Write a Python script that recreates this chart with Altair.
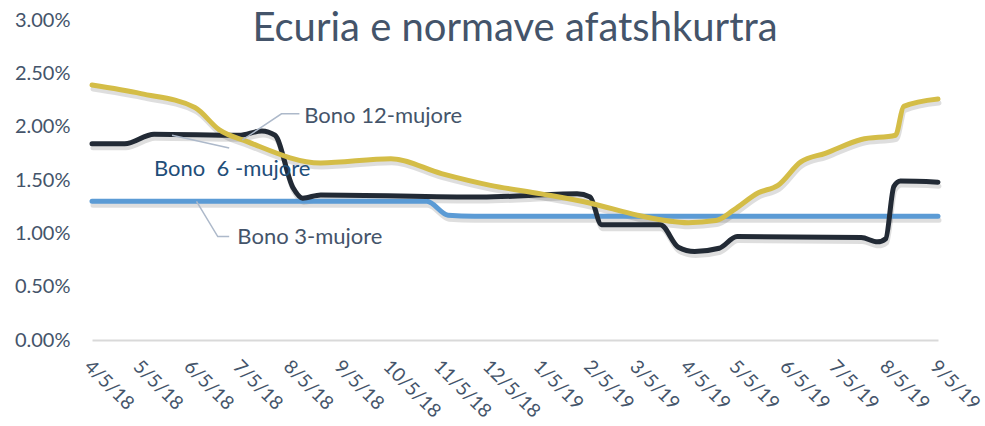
import altair as alt
import pandas as pd

# --- data ---
b3_dates = ["2018-04-05", "2018-07-01", "2018-10-01", "2018-10-27", "2018-11-09", "2018-11-25",
            "2019-02-05", "2019-05-05", "2019-09-05"]
b3_vals = [1.30, 1.30, 1.30, 1.30, 1.17, 1.16, 1.16, 1.16, 1.16]

b6_dates = ["2018-04-05", "2018-04-25", "2018-05-13", "2018-07-04", "2018-07-18", "2018-07-26",
            "2018-08-06", "2018-08-12", "2018-08-23", "2018-11-29", "2019-01-27", "2019-02-04",
            "2019-02-11", "2019-02-18", "2019-03-09", "2019-03-19", "2019-03-30", "2019-04-09",
            "2019-04-24", "2019-05-05", "2019-07-20", "2019-07-30", "2019-08-04", "2019-08-09",
            "2019-08-13", "2019-09-05"]
b6_vals = [1.84, 1.84, 1.93, 1.92, 1.96, 1.92,
           1.43, 1.33, 1.36, 1.34, 1.37, 1.34,
           1.08, 1.08, 1.08, 1.08, 0.87, 0.83,
           0.86, 0.97, 0.96, 0.92, 0.95, 1.44,
           1.49, 1.48]

b12_dates = ["2018-04-05", "2018-05-05", "2018-06-07", "2018-06-22", "2018-07-09", "2018-08-23",
             "2018-10-05", "2018-11-05", "2018-12-05", "2019-01-05", "2019-02-05", "2019-03-05",
             "2019-04-05", "2019-04-22", "2019-05-03", "2019-05-18", "2019-05-30", "2019-06-13",
             "2019-06-28", "2019-07-20", "2019-08-10", "2019-08-15", "2019-09-05"]
b12_vals = [2.39, 2.31, 2.18, 1.97, 1.86, 1.66,
            1.70, 1.56, 1.45, 1.37, 1.28, 1.17,
            1.10, 1.12, 1.22, 1.38, 1.45, 1.67,
            1.75, 1.88, 1.92, 2.19, 2.26]

tick_dates = ["2018-04-05", "2018-05-05", "2018-06-05", "2018-07-05", "2018-08-05", "2018-09-05",
              "2018-10-05", "2018-11-05", "2018-12-05", "2019-01-05", "2019-02-05", "2019-03-05",
              "2019-04-05", "2019-05-05", "2019-06-05", "2019-07-05", "2019-08-05", "2019-09-05"]
y_ticks = [0.0, 0.005, 0.01, 0.015, 0.02, 0.025, 0.03]

series_names = ["Bono 3-mujore", "Bono 6-mujore", "Bono 12-mujore"]
series_colors = ["#5B9BD5", "#222A35", "#D4BD47"]

# annotations: label text, anchor point (date, value), leader polyline points
ann_text = ["Bono 12-mujore", "Bono\u00a0 6 -mujore", "Bono 3-mujore"]
ann_date = ["2018-08-13", "2018-05-13", "2018-07-03"]
ann_val = [2.10, 1.60, 0.97]
ann_color = ["#44546A", "#1F4E79", "#44546A"]
lead_id = [0, 0, 0, 1, 1, 2, 2, 2]
lead_date = ["2018-08-10", "2018-07-30", "2018-07-06", "2018-05-24", "2018-06-28",
             "2018-06-08", "2018-06-21", "2018-06-28"]
lead_val = [2.12, 2.12, 1.875, 1.92, 1.80, 1.30, 0.97, 0.97]

FONT = "Lato"
TXT = "#44546A"


def ts(d):
    return d + "T00:00:00"


rows = []
for name, ds, vs in [(series_names[0], b3_dates, b3_vals),
                     (series_names[1], b6_dates, b6_vals),
                     (series_names[2], b12_dates, b12_vals)]:
    for d, v in zip(ds, vs):
        rows.append({"series": name, "date": ts(d), "value": v / 100.0})
df = pd.DataFrame(rows)

ann_df = pd.DataFrame({"text": ann_text, "date": [ts(d) for d in ann_date],
                       "value": [v / 100 for v in ann_val], "color": ann_color})
lead_df = pd.DataFrame({"id": lead_id, "date": [ts(d) for d in lead_date],
                        "value": [v / 100 for v in lead_val], "order": list(range(len(lead_id)))})


def dt(s):
    y, m, d = s.split("-")
    return alt.DateTime(year=int(y), month=int(m), date=int(d))


x_scale = alt.Scale(domain=[dt(tick_dates[0]), dt(tick_dates[-1])])
y_scale = alt.Scale(domain=[0, 0.03])

x_enc = alt.X("date:T", scale=x_scale,
              axis=alt.Axis(values=[dt(t) for t in tick_dates], format="%-m/%-d/%y",
                            labelAngle=45, labelAlign="left", labelBaseline="middle",
                            labelPadding=23, labelOffset=-5, ticks=False, grid=False,
                            domain=True, domainColor="#D9D9D9", domainWidth=2,
                            labelFont=FONT, labelFontSize=19, labelColor=TXT, title=None,
                            labelOverlap=False, labelBound=False, labelFlush=False))
y_enc = alt.Y("value:Q", scale=y_scale,
              axis=alt.Axis(values=y_ticks, format=".2%", ticks=False, grid=False,
                            domain=False, labelFont=FONT, labelFontSize=20,
                            labelColor=TXT, labelPadding=22, title=None))

color_enc = alt.Color("series:N", scale=alt.Scale(domain=series_names, range=series_colors),
                      legend=None)

shadow = alt.Chart(df).mark_line(strokeWidth=5, color="#000000", opacity=0.13,
                                 interpolate="monotone", xOffset=1, yOffset=4,
                                 strokeCap="round").encode(
    x=x_enc, y=y_enc, detail="series:N")

lines = alt.Chart(df).mark_line(strokeWidth=5, interpolate="monotone",
                                strokeCap="round", strokeJoin="round").encode(
    x=x_enc, y=y_enc, color=color_enc)

leaders = alt.Chart(lead_df).mark_line(color="#ADB9CA", strokeWidth=1.5).encode(
    x="date:T", y="value:Q", detail="id:N", order="order:Q")

labels = alt.Chart(ann_df).mark_text(align="left", baseline="middle", font=FONT,
                                     fontSize=22, dx=0).encode(
    x="date:T", y="value:Q", text="text:N",
    color=alt.Color("color:N", scale=None))

chart = alt.layer(shadow, lines, leaders, labels).properties(
    width=846, height=320,
    background="white",
    padding={"left": 92, "top": 20, "right": 47, "bottom": 86},
    autosize=alt.AutoSizeParams(type="none"),
    title=alt.TitleParams("Ecuria e normave afatshkurtra", font=FONT, fontSize=40,
                          fontWeight="normal", color=TXT, anchor="middle", dy=43),
).configure_view(stroke=None)

chart.save("out.html", embed_options={"renderer": "svg", "actions": False})
